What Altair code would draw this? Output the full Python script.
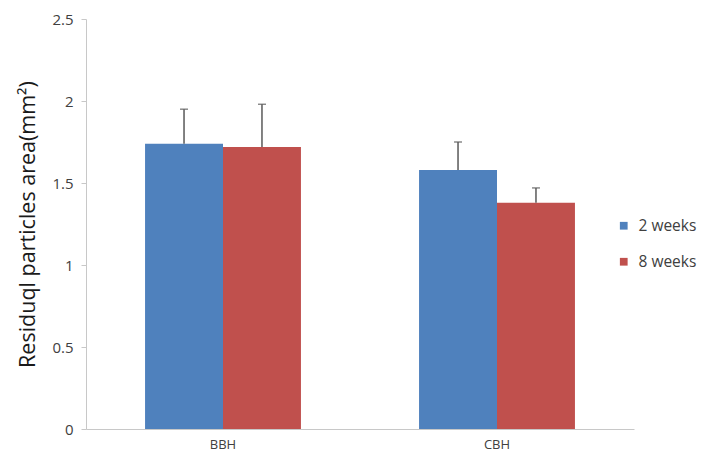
import altair as alt
import pandas as pd

groups = ["BBH", "BBH", "CBH", "CBH"]
series = ["2 weeks", "8 weeks", "2 weeks", "8 weeks"]
means = [1.74, 1.72, 1.58, 1.38]
upper = [1.95, 1.98, 1.75, 1.47]

df = pd.DataFrame({"group": groups, "series": series, "mean": means, "upper": upper})

FONT = "Open Sans"
xscale = alt.Scale(paddingInner=0.431, paddingOuter=0.2155)
yscale = alt.Scale(domain=[0, 2.5], nice=False)
colors = alt.Scale(domain=["2 weeks", "8 weeks"], range=["#4F81BD", "#C0504D"])

base = alt.Chart(df).encode(
    x=alt.X("group:N", scale=xscale, title=None,
            axis=alt.Axis(labelAngle=0, ticks=False, domainColor="#c8c8c8",
                          labelColor="#404040", labelFontSize=13, labelPadding=9,
                          labelFont=FONT)),
    xOffset=alt.XOffset("series:N", scale=alt.Scale(paddingInner=0, paddingOuter=0)),
)

bars = base.mark_bar().encode(
    y=alt.Y("mean:Q", scale=yscale, title="Residuql particles area(mm²)",
            axis=alt.Axis(values=[0, 0.5, 1, 1.5, 2, 2.5], format="~g", grid=False,
                          domainColor="#c8c8c8", tickColor="#c8c8c8", tickSize=5,
                          labelColor="#404040", labelFontSize=15, labelPadding=8,
                          labelFont=FONT, titleFont=FONT, titleFontSize=21.5,
                          titleFontWeight="normal", titleColor="#1a1a1a", titlePadding=12)),
    color=alt.Color("series:N", scale=colors, title=None,
                    legend=alt.Legend(orient="none", legendX=530, legendY=199,
                                      symbolType="square", symbolSize=60,
                                      symbolStrokeWidth=0, labelFontSize=15.5,
                                      labelFont=FONT, labelColor="#404040",
                                      rowPadding=19, labelOffset=7)),
)

rules = base.mark_rule(color="#595959", strokeWidth=1.5).encode(
    y="mean:Q", y2="upper:Q"
)
caps = base.mark_tick(color="#595959", size=8, thickness=1.5, orient="horizontal").encode(
    y="upper:Q"
)

chart = alt.layer(bars, rules, caps).properties(
    width=548, height=410,
    padding={"left": 78, "top": 11, "right": 67, "bottom": 25},
    autosize=alt.AutoSizeParams(type="none"),
).configure(background="white").configure_view(stroke=None)

chart.save("out.html", embed_options={"renderer": "svg", "actions": False})
